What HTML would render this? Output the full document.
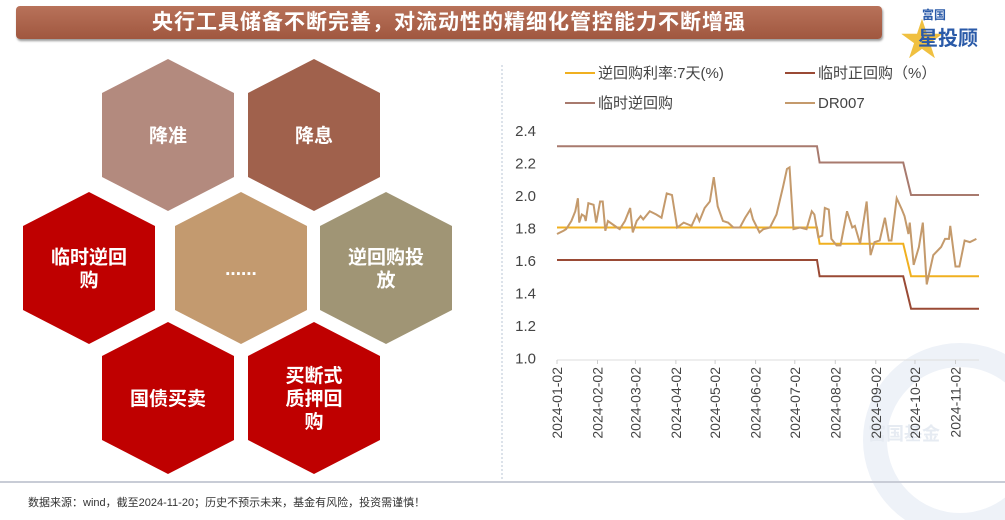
<!DOCTYPE html>
<html><head><meta charset="utf-8">
<style>
body{margin:0;width:1005px;height:520px;background:#fff;font-family:"Liberation Sans","Noto Sans CJK SC",sans-serif;position:relative;overflow:hidden}
.title{position:absolute;left:16px;top:6px;width:866px;height:33px;background:linear-gradient(#b8725a,#a0573f);border-radius:4px;box-shadow:1px 2px 2px #999;color:#fff;font-weight:bold;font-size:21px;line-height:33px;text-align:center;letter-spacing:1px}
.logo{position:absolute;left:900px;top:4px;font-weight:bold;color:#2a5aa8}
.foot{position:absolute;left:28px;top:494px;font-size:11px;color:#333}
.sep{position:absolute;left:0;top:481px;width:1005px;height:2px;background:#c8ccd6}
</style></head><body>
<div class="title">央行工具储备不断完善，对流动性的精细化管控能力不断增强</div>
<div class="logo"><span style="position:absolute;left:0;top:0;font-size:44px;color:#f0c040">★</span><span style="position:absolute;left:22px;top:2px;font-size:12px;white-space:nowrap">富国</span><span style="position:absolute;left:18px;top:18px;font-size:20px;white-space:nowrap">星投顾</span></div>
<svg width="1005" height="520" style="position:absolute;left:0;top:0">
<g id="hex"></g>
<line x1="502" y1="65" x2="502" y2="480" stroke="#b8c4d4" stroke-dasharray="2,2"/>
<circle cx="960" cy="440" r="85" fill="none" stroke="#eef2f8" stroke-width="24"/>
<text x="868" y="440" font-size="18" fill="#e6ebf2" font-weight="bold">富国基金</text>
<g id="chart"></g>
</svg>
<div class="sep"></div>
<div class="foot">数据来源：wind，截至2024-11-20；历史不预示未来，基金有风险，投资需谨慎！</div>
<script>
const hexLabels=[["降准"],["降息"],["临时逆回","购"],["......"],["逆回购投","放"],["国债买卖"],["买断式","质押回","购"]];
const hexCenters=[[168,135],[314,135],[89,268],[241,268],[386,268],[168,398],[314,398]];
const hexColors=["#b38a7e","#a0614c","#bf0000","#c39a6f","#a09575","#bf0000","#bf0000"];
const ns="http://www.w3.org/2000/svg";
function mk(t,a,p){const e=document.createElementNS(ns,t);for(const k in a)e.setAttribute(k,a[k]);p.appendChild(e);return e;}
const hg=document.getElementById('hex');
hexCenters.forEach((c,i)=>{
 const [cx,cy]=c,w=66,h=76,s=42;
 const p=mk('polygon',{points:`${cx},${cy-h} ${cx+w},${cy-s} ${cx+w},${cy+s} ${cx},${cy+h} ${cx-w},${cy+s} ${cx-w},${cy-s}`,fill:hexColors[i]},hg);
 
 
 const L=hexLabels[i];
 L.forEach((t,j)=>{
  const tx=mk('text',{x:cx,y:cy+7+(j-(L.length-1)/2)*23,'text-anchor':'middle','font-size':19,'font-weight':'bold',fill:'#fff'},hg);
  tx.textContent=t;
  
  
 });
});
// chart data (x = days since 2024-01-02)
const yTicks=[1.0,1.2,1.4,1.6,1.8,2.0,2.2,2.4];
const xTickLabels=["2024-01-02","2024-02-02","2024-03-02","2024-04-02","2024-05-02","2024-06-02","2024-07-02","2024-08-02","2024-09-02","2024-10-02","2024-11-02"];
const xTickDays=[0,31,60,91,121,152,182,213,244,274,305];
const stepDays=[0,199,201,265,271,323];
const rr7Values=[1.8,1.8,1.7,1.7,1.5,1.5];
const upperValues=[2.3,2.3,2.2,2.2,2.0,2.0];
const lowerValues=[1.6,1.6,1.5,1.5,1.3,1.3];
const drDays=[0,5,7,11,14,16,17,19,21,22,24,28,30,33,35,37,39,46,48,52,56,58,61,64,66,71,76,80,84,88,92,97,103,107,109,113,117,120,123,127,131,135,140,144,148,150,155,158,163,168,173,176,178,181,186,191,195,197,200,203,205,208,210,214,217,222,226,228,232,237,240,243,247,251,254,256,260,264,266,269,270,273,277,280,283,288,294,297,300,301,305,308,312,316,321];
const drValues=[1.76,1.78,1.79,1.84,1.9,1.98,1.83,1.88,1.87,1.84,1.95,1.94,1.83,1.96,1.96,1.78,1.84,1.8,1.79,1.84,1.92,1.77,1.84,1.87,1.85,1.9,1.88,1.86,2.01,2.0,1.8,1.83,1.81,1.88,1.84,1.92,1.96,2.11,1.93,1.84,1.83,1.8,1.8,1.86,1.91,1.85,1.77,1.79,1.8,1.88,2.05,2.16,2.17,1.79,1.8,1.79,1.9,1.88,1.74,1.75,1.92,1.91,1.73,1.69,1.69,1.9,1.8,1.81,1.7,1.96,1.63,1.71,1.72,1.86,1.72,1.72,1.98,1.91,1.87,1.76,1.83,1.57,1.68,1.83,1.45,1.63,1.68,1.73,1.73,1.81,1.56,1.56,1.72,1.71,1.73];
const X=d=>557+d*(422/323), Y=v=>357.5-(v-1.0)*162.5;
const g=document.getElementById('chart');
yTicks.forEach(v=>{const t=mk('text',{x:536,y:Y(v)+6,'text-anchor':'end','font-size':15,fill:'#444'},g);t.textContent=v.toFixed(1);
 });
const ax=mk('line',{x1:557,y1:360,x2:979,y2:360,stroke:'#ddd'},g);

xTickLabels.forEach((l,i)=>{const x=X(xTickDays[i]);
 const tk=mk('line',{x1:x,y1:360,x2:x,y2:364,stroke:'#ccc'},g);
 
 const t=mk('text',{x:0,y:0,'text-anchor':'end','font-size':14,fill:'#444',transform:`translate(${x+5},367) rotate(-90)`},g);t.textContent=l;
 });
function line(ds,vs,col,w,name){const p=mk('polyline',{points:ds.map((d,i)=>X(d)+','+Y(vs[i])).join(' '),fill:'none',stroke:col,'stroke-width':w},g);
 }
line(stepDays,upperValues,'#a87a6e',2,'line-temporary-reverse-repo');
line(stepDays,lowerValues,'#9a4a35',2,'line-temporary-repo');
line(stepDays,rr7Values,'#f0b020',2,'line-7d-reverse-repo');
line(drDays,drValues,'#c49a6c',2,'line-dr007');
const leg=[["逆回购利率:7天(%)","#f0b020",565,78],["临时正回购（%）","#9a4a35",785,78],["临时逆回购","#a87a6e",565,108],["DR007","#c49a6c",785,108]];
leg.forEach(l=>{const ln=mk('line',{x1:l[2],y1:l[3]-5,x2:l[2]+30,y2:l[3]-5,stroke:l[1],'stroke-width':2},g);
 
 const t=mk('text',{x:l[2]+33,y:l[3],'font-size':15,fill:'#444'},g);t.textContent=l[0];
 });
</script>
</body></html>
